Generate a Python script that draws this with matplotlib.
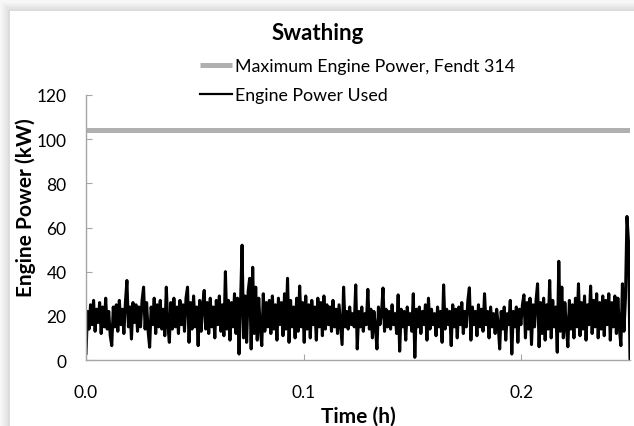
import matplotlib
matplotlib.use("Agg")
import matplotlib.pyplot as plt
from matplotlib.patches import Rectangle
import numpy as np

plt.rcParams['font.family'] = ['Lato', 'DejaVu Sans']

# engine power used (kW) left to right
power_used = [
    3, 22, 14, 25, 16, 27, 13, 23, 17, 26, 12, 24, 15, 28, 14, 22, 11, 6.5, 24, 15,
    25, 13, 27, 16, 23, 12, 26, 36, 15, 24, 9.5, 26, 17, 25, 13, 24, 15, 27, 33, 14,
    26, 13, 5.8, 24, 16, 28, 12, 25, 15, 27, 14, 23, 11, 33, 16, 8, 26, 14, 28, 15,
    24, 12, 27, 16, 25, 13, 28, 33, 8, 26, 14, 29, 15, 24, 6.5, 27, 13, 25, 31.5, 14,
    26, 12, 28, 15, 24, 10, 27, 16, 29, 13, 25, 11, 40, 14, 27, 9, 26, 15, 30, 12,
    28, 2.7, 26, 52, 10, 29, 8, 31, 37, 5, 42, 12, 33, 9, 28, 14, 6.5, 30, 13, 26,
    15, 27, 12, 29, 14, 25, 9, 28, 16, 26, 11, 30, 14, 37, 8, 27, 15, 24, 10, 28,
    13, 33.5, 15, 26, 8, 29, 14, 25, 10, 27, 16, 24, 9, 28, 15, 26, 11, 29, 14, 25,
    16, 24, 13, 27, 15, 23, 12, 25, 16, 7, 33, 15, 22, 14, 24, 16, 21, 15, 34, 5,
    22, 15, 24, 13, 21, 16, 32, 14, 23, 10, 22, 15, 5, 24, 16, 21, 32.6, 13, 23, 15,
    22, 14, 25, 16, 21, 12, 29.5, 4, 23, 15, 22, 9, 24, 16, 21, 13, 30, 1.2, 23, 15,
    24, 12, 22, 16, 25, 9, 28, 14, 23, 16, 21, 11, 24, 15, 22, 8, 34, 14, 23, 16,
    22, 6.5, 25, 15, 23, 10, 24, 16, 26, 12, 22, 15, 27, 32.7, 9, 24, 16, 22, 11, 25,
    15, 23, 13, 30, 16, 22, 10, 24, 15, 21, 12, 23, 16, 5, 22, 14, 24, 9, 21, 16,
    27, 2.7, 22, 15, 24, 8, 23, 16, 25, 29.5, 10, 26, 14, 28, 7, 25, 15, 27, 34.5, 6,
    26, 12, 28, 9, 25, 14, 36, 10, 27, 15, 24, 3.5, 44.7, 13, 33, 10, 26, 15, 6, 27,
    14, 25, 10, 28, 15, 34.5, 11, 26, 14, 29, 9, 25, 16, 33.5, 12, 27, 15, 30, 10, 26,
    14, 29, 11, 27, 16, 30, 9, 26, 15, 29, 12, 28, 14, 6.5, 34.5, 13, 28, 65, 53.5, 0.5,
]
t_end = 0.25
time_h = np.linspace(0, t_end, len(power_used))

max_time = [0, t_end]
max_power = [104, 104]

fig = plt.figure(figsize=(6.34, 4.27), dpi=100)
fig.patch.set_facecolor('white')

# drop shadow of the pasted chart (left and top edges)
shades = ['#dcdcdc', '#e4e4e4', '#ebebeb', '#f1f1f1', '#f7f7f7']
for k, c in enumerate(shades):
    w = (10 - 2 * k) / 634
    h = (12 - 2 * k) / 427
    fig.patches.append(Rectangle((0, 0), w, 1, transform=fig.transFigure,
                                 color=c, zorder=-10 + k, lw=0))
    fig.patches.append(Rectangle((0, 1 - h), 1, h, transform=fig.transFigure,
                                 color=c, zorder=-10 + k, lw=0))

ax = fig.add_axes([86 / 634, 1 - 361 / 427, 544 / 634, 265 / 427])
ax.plot(max_time, max_power, color='#b0b0b0', lw=3.6,
        label='Maximum Engine Power, Fendt 314', solid_capstyle='butt')
ax.plot(time_h, power_used, color='black', lw=2.2, label='Engine Power Used')

ax.set_xlim(0, t_end)
ax.set_ylim(0, 120)
ax.set_xticks([0.0, 0.1, 0.2])
ax.set_xticklabels(['0.0', '0.1', '0.2'])
ax.set_yticks(range(0, 121, 20))

for s in ['top', 'right']:
    ax.spines[s].set_visible(False)
for s in ['left', 'bottom']:
    ax.spines[s].set_color('#a6a6a6')
    ax.spines[s].set_linewidth(1.0)
ax.tick_params(axis='both', direction='in', length=4, color='#a6a6a6',
               labelsize=12.5, labelcolor='black')
ax.tick_params(axis='y', pad=14)
ax.tick_params(axis='x', pad=17)

ax.set_xlabel('Time (h)', fontsize=15, fontweight='bold')
ax.set_ylabel('Engine Power (kW)', fontsize=15, fontweight='bold')
ax.xaxis.set_label_coords(0.5, -0.172)
ax.yaxis.set_label_coords(-0.092, 0.58)

fig.text(318 / 634, 1 - 33 / 427, 'Swathing', ha='center', va='center',
         fontsize=16, fontweight='bold')

leg = ax.legend(loc='upper left', bbox_to_anchor=(200 / 634, 1 - 59 / 427),
                bbox_transform=fig.transFigure, frameon=False, fontsize=12.8,
                handlelength=1.8, handletextpad=0.15, labelspacing=0.75,
                borderpad=0, borderaxespad=0)
leg.get_lines()[0].set_linewidth(3.6)
leg.get_lines()[1].set_linewidth(1.6)

fig.savefig('out.png', dpi=100)
